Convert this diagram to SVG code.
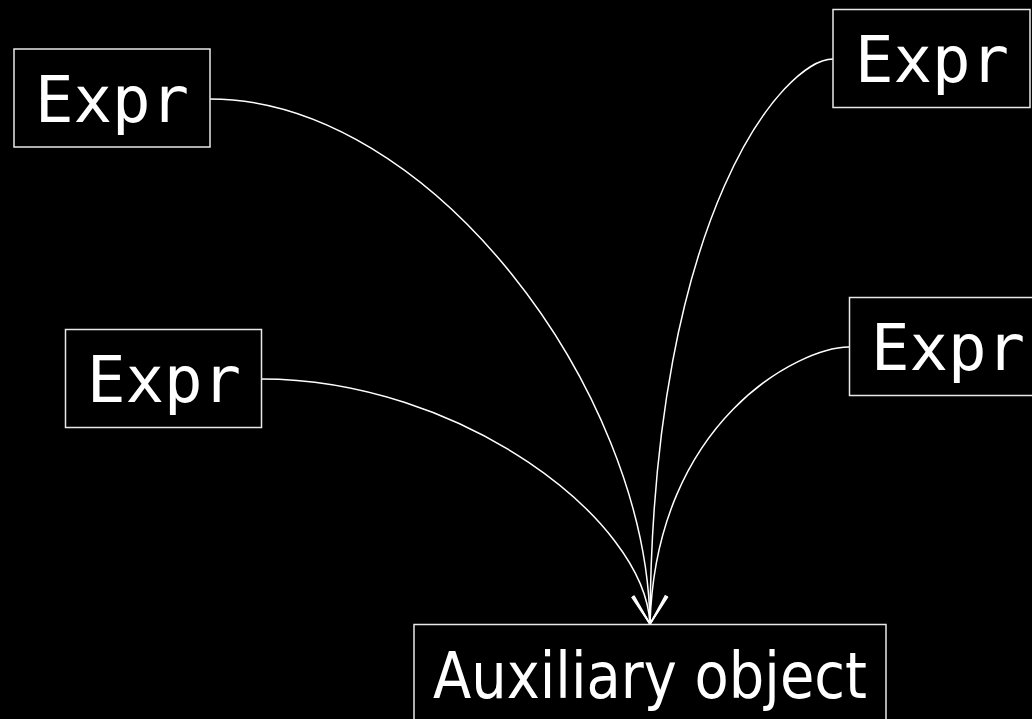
<svg xmlns="http://www.w3.org/2000/svg" width="1032" height="719" viewBox="0 0 1032 719">
<style>
.box{fill:#000;stroke:#e8e8e8;stroke-width:1.5}
.lbl{fill:#fff;font-family:"DejaVu Sans Mono","Liberation Mono",monospace;font-size:64px;text-anchor:middle}
.aux{fill:#fff;font-family:"DejaVu Sans","Liberation Sans",sans-serif;font-size:64px;text-anchor:middle}
.edge{fill:none;stroke:#fff;stroke-width:1.5}
</style>
<defs>
<marker id="arr" markerUnits="userSpaceOnUse" markerWidth="40" markerHeight="44" refX="0" refY="0" viewBox="-32 -22 40 44" orient="auto" overflow="visible">
<path d="M-28,-17 L0,0 L-28,17" fill="none" stroke="#fff" stroke-width="1.5"/>
</marker>
</defs>
<rect width="1032" height="719" fill="#000"/>
<g id="connectors">
<path class="edge" d="M210,99 C430,99 647,390 650,624" marker-end="url(#arr)"/>
<path class="edge" d="M261,379 C460,379 645,519 650,624" marker-end="url(#arr)"/>
<path class="edge" d="M833,59 C785,59 652,210 650,624" marker-end="url(#arr)"/>
<path class="edge" d="M849,347 C800,347 656,420 650,624" marker-end="url(#arr)"/>
</g>
<g id="expr1">
<rect class="box" x="14" y="49" width="196" height="98"/>
<text class="lbl" x="112" y="122">Expr</text>
</g>
<g id="expr2">
<rect class="box" x="833" y="9.5" width="197" height="98"/>
<text class="lbl" x="932" y="82">Expr</text>
</g>
<g id="expr3">
<rect class="box" x="65.5" y="329.5" width="196" height="98"/>
<text class="lbl" x="164" y="402">Expr</text>
</g>
<g id="expr4">
<rect class="box" x="849.5" y="297.5" width="196" height="98"/>
<text class="lbl" x="948" y="370">Expr</text>
</g>
<g id="auxiliary">
<rect class="box" x="414" y="624.5" width="472" height="98"/>
<text class="aux" x="650" y="698" textLength="434" lengthAdjust="spacingAndGlyphs">Auxiliary object</text>
</g>
</svg>
